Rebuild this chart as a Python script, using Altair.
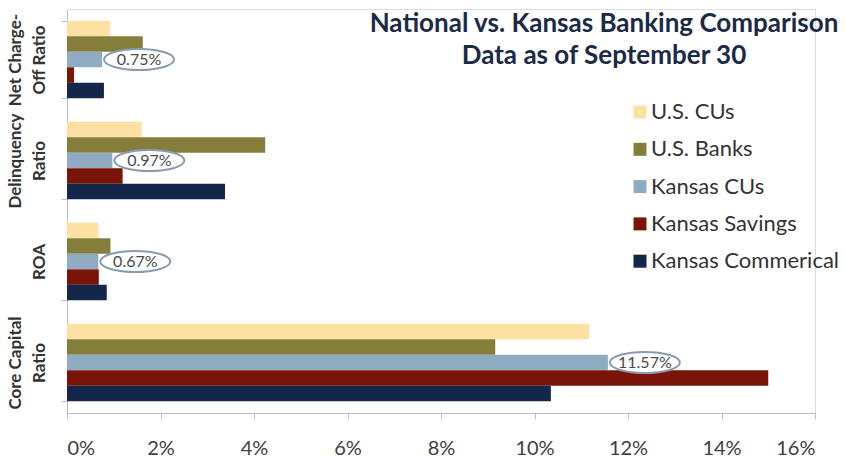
import json
import altair as alt
import pandas as pd

categories = ["Net Charge-Off Ratio", "Delinquency Ratio", "ROA", "Core Capital Ratio"]
category_lines = [["Net Charge-", "Off Ratio"], ["Delinquency", "Ratio"], ["", "ROA"], ["Core Capital", "Ratio"]]
series = ["U.S. CUs", "U.S. Banks", "Kansas CUs", "Kansas Savings", "Kansas Commerical"]
colors = ["#fde1a3", "#857e3b", "#8fabc2", "#7a1409", "#14264a"]

us_cus = [0.92, 1.60, 0.67, 11.17]
us_banks = [1.62, 4.24, 0.93, 9.16]
kansas_cus = [0.75, 0.97, 0.67, 11.57]
kansas_savings = [0.15, 1.19, 0.68, 15.00]
kansas_commercial = [0.79, 3.38, 0.85, 10.35]

callout_labels = ["0.75%", "0.97%", "0.67%", "11.57%"]
x_ticks = [0, 2, 4, 6, 8, 10, 12, 14, 16]

values = [us_cus, us_banks, kansas_cus, kansas_savings, kansas_commercial]
rows = []
for s, vals in zip(series, values):
    for c, v in zip(categories, vals):
        rows.append({"category": c, "series": s, "value": v})
df = pd.DataFrame(rows)

callouts = pd.DataFrame({
    "category": categories,
    "series": ["Kansas CUs"] * len(categories),
    "value": kansas_cus,
    "label": callout_labels,
})

label_expr = "datum.label"
for c, lines in reversed(list(zip(categories, category_lines))):
    label_expr = f"datum.label == {json.dumps(c)} ? {json.dumps(lines)} : ({label_expr})"

AXIS_GREY = "#bfbfbf"

x_enc = alt.X(
    "value:Q",
    scale=alt.Scale(domain=[0, 16], nice=False, zero=True),
    axis=alt.Axis(
        values=x_ticks, labelExpr="datum.value + '%'", title=None, grid=False,
        domainColor=AXIS_GREY, tickColor=AXIS_GREY, tickSize=6, labelPadding=19,
        labelFont="Lato", labelFontSize=20, labelColor="#404040",
    ),
)
y_enc = alt.Y(
    "category:N",
    sort=categories,
    scale=alt.Scale(paddingInner=0.23, paddingOuter=0.115),
    axis=alt.Axis(
        title=None, tickBand="extent", domainColor=AXIS_GREY, tickColor=AXIS_GREY,
        tickSize=6, labelAngle=-90, labelAlign="center", labelBaseline="bottom",
        labelPadding=37, labelExpr=label_expr, labelLineHeight=24,
        labelFont="Lato", labelFontWeight="bold", labelFontSize=17, labelColor="#333333",
    ),
)
yoff = alt.YOffset("series:N", sort=series)

bars = alt.Chart(df).mark_bar(size=15.5).encode(
    x=x_enc,
    y=y_enc,
    yOffset=yoff,
    color=alt.Color(
        "series:N",
        sort=series,
        scale=alt.Scale(domain=series, range=colors),
        legend=alt.Legend(
            title=None, orient="none", legendX=562, legendY=92,
            symbolType="square", symbolSize=169, symbolStrokeWidth=0,
            labelFont="Lato", labelFontSize=22, labelColor="#333333", labelLimit=400,
            labelOffset=0, rowPadding=15.3, padding=0,
        ),
    ),
)

ellipse_path = "M 0 0 A 1 0.3 0 1 1 2 0 A 1 0.3 0 1 1 0 0 Z"
ellipses = alt.Chart(callouts).mark_point(
    shape=ellipse_path, size=4900, filled=False, fill="white", fillOpacity=1,
    stroke="#8a9bb0", strokeWidth=2, opacity=1, xOffset=2,
).encode(x="value:Q", y=alt.Y("category:N", sort=categories), yOffset=yoff)

texts = alt.Chart(callouts).mark_text(
    align="center", baseline="middle", dx=37, font="Lato", fontSize=16, color="#4a4a4a",
).encode(x="value:Q", y=alt.Y("category:N", sort=categories), yOffset=yoff, text="label:N")

chart = alt.layer(bars, ellipses, texts).properties(
    width=748,
    height=404,
    autosize=alt.AutoSizeParams(type="none"),
    padding={"left": 67, "top": 9, "right": 31, "bottom": 45},
    title=alt.TitleParams(
        text=["National vs. Kansas Banking Comparison", "Data as of September 30"],
        anchor="middle", frame="group", orient="top", baseline="top", offset=0,
        dx=163, dy=60, font="Lato", fontSize=26, fontWeight="bold", color="#1b2a45",
        lineHeight=32,
    ),
).configure_view(stroke=None).configure(background="white")

chart.save("out.html", embed_options={"renderer": "svg", "actions": False})
